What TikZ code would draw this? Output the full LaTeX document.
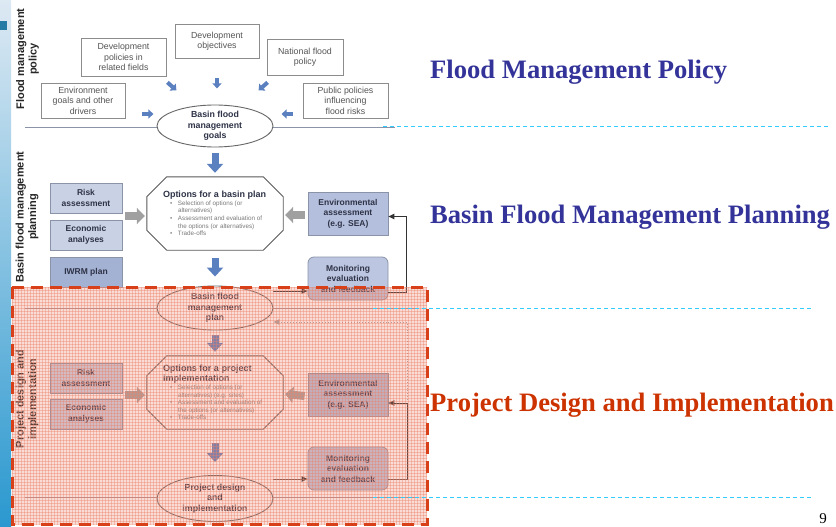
\documentclass[tikz,border=0pt]{standalone}
\usepackage{fontspec}
\setmainfont{Liberation Serif}
\setsansfont{Liberation Sans}
\usetikzlibrary{arrows.meta,shapes.geometric,patterns}
\definecolor{titleblue}{HTML}{333399}
\definecolor{titlered}{HTML}{CC3300}
\definecolor{cyanl}{HTML}{33CCFF}
\definecolor{arrblue}{HTML}{5B80C0}
\definecolor{arrgray}{HTML}{A0A0A0}
\definecolor{boxblue}{HTML}{C9D1E5}
\definecolor{iwrmblue}{HTML}{A3B1D3}
\definecolor{envblue}{HTML}{B3BFDC}
\definecolor{monblue}{HTML}{BCC6E0}
\definecolor{bgray}{HTML}{8A93A8}
\definecolor{tgray}{HTML}{8C8C8C}
\definecolor{txtgray}{HTML}{555555}
\definecolor{txtdark}{HTML}{2F3347}
\definecolor{sepcol}{HTML}{8A93A8}
\definecolor{bulgray}{HTML}{7A7A7A}
\definecolor{redline}{HTML}{D8401A}
\definecolor{salmon}{HTML}{EC8269}
\definecolor{stripT}{HTML}{DDE9F3}
\definecolor{stripB}{HTML}{2A98CF}
\newcommand\octoline[1]{%
  \draw[draw=black!65,fill=white,line width=0.9pt]
    ([xshift=20pt]#1.north west) -- ([xshift=-20pt]#1.north east)
    -- ([yshift=-20pt]#1.north east) -- ([yshift=20pt]#1.south east)
    -- ([xshift=-20pt]#1.south east) -- ([xshift=20pt]#1.south west)
    -- ([yshift=20pt]#1.south west) -- ([yshift=-20pt]#1.north west) -- cycle;}
\newcommand\bul[1]{\hangindent=15pt\hangafter=1\hspace*{7pt}\makebox[8pt][l]{\textbullet}#1\par}
\newcommand\ragset{\leftskip=0pt\rightskip=0pt plus 1fil\parfillskip=0pt plus 1fil\spaceskip=0pt\xspaceskip=0pt\hyphenpenalty=10000\exhyphenpenalty=10000}
\tikzset{
  tbox/.style={draw=tgray, fill=white, line width=0.8pt, align=center,
    font=\sffamily\fontsize{8.8}{10.5}\selectfont, text=txtgray, inner sep=1pt},
  bbox/.style={draw=bgray, fill=boxblue, line width=0.8pt, align=center,
    font=\sffamily\bfseries\fontsize{8.5}{10.5}\selectfont, text=txtdark,
    minimum width=72pt, minimum height=30pt, inner sep=1pt},
  ebox/.style={bbox, fill=envblue, minimum width=80pt, minimum height=43pt},
  mbox/.style={ebox, rounded corners=6pt, fill=monblue},
  ell/.style={ellipse, draw=black!60, fill=white, line width=0.9pt,
    minimum width=116pt, minimum height=44pt, align=center, inner sep=0pt,
    font=\sffamily\bfseries\fontsize{8.8}{10.5}\selectfont, text=txtdark},
  octn/.style={minimum width=136pt, minimum height=73pt, inner sep=0pt},
  octt/.style={text width=108pt, align=left, inner sep=0pt, text=txtdark},
  bigarr/.style={draw=arrblue, line width=7pt, -{Triangle[length=9pt,width=16pt]}},
  smallarr/.style={draw=arrblue, line width=4pt, -{Triangle[length=5pt,width=9pt]}},
  grayarr/.style={draw=arrgray, line width=8pt, -{Triangle[length=8pt,width=16pt]}},
  fb/.style={draw=black!80, line width=0.9pt, -{Triangle[length=6pt,width=5.5pt]}},
  dotfb/.style={draw=black!35, line width=0.9pt, dotted, -{Triangle[length=6pt,width=5.5pt]}},
  sect/.style={rotate=90, align=center, font=\sffamily\bfseries\fontsize{11}{12.5}\selectfont, text=black!85},
  ttl/.style={anchor=west, inner sep=0pt, font=\bfseries\fontsize{26.6}{30}\selectfont},
  sepline/.style={draw=sepcol, line width=1pt},
  cyanline/.style={draw=cyanl, line width=1pt, dash pattern=on 4pt off 3pt}
}
\begin{document}
\begin{tikzpicture}[x=1pt,y=-1pt]
\useasboundingbox (0,0) rectangle (836,527);
\fill[white] (0,0) rectangle (836,527);
% left strip
\shade[top color=stripT, bottom color=stripB] (0,0) rectangle (11,527);
\fill[stripB!80!black] (0,21) rectangle (7,30);

% separator lines
\draw[sepline] (25,127) -- (395,127);
\draw[sepline] (25,308) -- (415,308);
\draw[sepline] (25,497) -- (415,497);

% section labels
\node[sect] (s1) at (27.5,59) {Flood management\\policy};
\node[sect] (s2) at (27,217) {Basin flood management\\planning};
\node[sect] (s3) at (27,399) {Project design and\\implementation};

% ---------- policy level
\node[tbox, minimum width=84pt, minimum height=34pt] (dobj) at (217,41) {Development\\objectives};
\node[tbox, minimum width=85pt, minimum height=38pt] (dpol) at (123.5,57) {Development\\policies in\\related fields};
\node[tbox, minimum width=76pt, minimum height=36pt] (nfp) at (305,57) {National flood\\policy};
\node[tbox, minimum width=84pt, minimum height=35pt] (envg) at (83,100.5) {Environment\\goals and other\\drivers};
\node[tbox, minimum width=85pt, minimum height=35pt] (pub) at (345.5,100.5) {Public policies\\influencing\\flood risks};
\node[ell, minimum height=42pt] (goals) at (215,126) {Basin flood\\management\\goals};

\draw[smallarr] ([xshift=1pt,yshift=-6pt]dpol.south east) -- ++(9,8);
\draw[smallarr] ([yshift=-20pt]dobj.south) -- ++(0,10);
\draw[smallarr] ([xshift=1pt,yshift=-7pt]nfp.south west) -- ++(-9,8);
\draw[smallarr] ([xshift=17pt,yshift=-13.5pt]envg.east) -- ++(11,0);
\draw[smallarr] ([xshift=-10pt,yshift=-13.5pt]pub.west) -- ++(-11,0);

% ---------- basin planning level
\node[octn] (opt1) at (215,213.5) {};
\octoline{opt1}
\node[octt] (opt1t) at (217,213.5) {\ragset{\sffamily\bfseries\fontsize{9}{10.5}\selectfont Options for a basin plan\par}
  {\sffamily\fontsize{6.3}{7.6}\selectfont\color{bulgray}\ragset
  \bul{Selection of options (or alternatives)}
  \bul{Assessment and evaluation of the options (or alternatives)}
  \bul{Trade-offs}}};
\node[bbox] (risk1) at (86,198) {Risk\\assessment};
\node[bbox] (econ1) at (86,235) {Economic\\analyses};
\node[bbox, fill=iwrmblue] (iwrm) at (86,272) {IWRM plan};
\node[ebox] (env1) at (348,213.5) {Environmental\\assessment\\(e.g. SEA)};
\node[mbox] (mon1) at (348,278.5) {Monitoring\\evaluation\\and feedback};
\node[ell] (plan) at (215,308) {Basin flood\\management\\plan};

\draw[bigarr] ([yshift=-6pt]goals.south) -- ([yshift=4pt]opt1.north);
\draw[bigarr] ([yshift=-8pt]opt1.south) -- ([yshift=9pt]plan.north);
\draw[grayarr] ([xshift=3pt,yshift=-2.5pt]risk1.east |- opt1.west) -- ([xshift=-2pt,yshift=-2.5pt]opt1.west);
\draw[grayarr] ([xshift=-3pt,yshift=-1.5pt]env1.west) -- ([xshift=2pt,yshift=-1.5pt]opt1.east);
\draw[fb] ([yshift=17pt]plan.east) -- ([yshift=-12.5pt]mon1.west);
\draw[fb] ([yshift=-13.5pt]mon1.east) -- ++(18,0) |- ([yshift=-3pt]env1.east);

% ---------- project level
\node[octn] (opt2) at (215,392.5) {};
\octoline{opt2}
\node[octt] (opt2t) at (217,392.5) {\ragset{\sffamily\bfseries\fontsize{9}{10.5}\selectfont Options for a project\\implementation\par}
  {\sffamily\fontsize{6.3}{7.6}\selectfont\color{bulgray}\ragset
  \bul{Selection of options (or alternatives) (e.g. sites)}
  \bul{Assessment and evaluation of the options (or alternatives)}
  \bul{Trade-offs}}};
\node[bbox] (risk2) at (86,378) {Risk\\assessment};
\node[bbox] (econ2) at (86,414) {Economic\\analyses};
\node[ebox] (env2) at (348,394.5) {Environmental\\assessment\\(e.g. SEA)};
\node[mbox] (mon2) at (348,468.5) {Monitoring\\evaluation\\and feedback};
\node[ell, minimum height=46pt] (proj) at (215,498.5) {Project design\\and\\implementation};

\draw[bigarr] ([yshift=-5pt]plan.south) -- ([yshift=4pt]opt2.north);
\draw[bigarr] ([yshift=-14pt]opt2.south) -- ([yshift=13pt]proj.north);
\draw[grayarr] ([xshift=3pt,yshift=-2.5pt]risk2.east |- opt2.west) -- ([xshift=-2pt,yshift=-2.5pt]opt2.west);
\draw[grayarr] ([xshift=-3pt,yshift=-1.5pt]env2.west) -- ([xshift=2pt,yshift=-1.5pt]opt2.east);
\draw[fb] ([yshift=19.5pt]proj.east) -- ([yshift=-10.5pt]mon2.west);
\draw[fb] ([yshift=-10.5pt]mon2.east) -- ++(19,0) |- ([yshift=-8.5pt]env2.east);
\coordinate (dotstart) at (407,400);
\draw[dotfb] (dotstart) |- ([yshift=-14pt]plan.east);

% ---------- overlay
\fill[salmon, fill opacity=0.28] (12,287) rectangle (427,524);
\fill[pattern=grid, pattern color=salmon, opacity=0.4] (12,287) rectangle (427,524);
\draw[redline, line width=3pt, dash pattern=on 12pt off 7pt] (12,287) rectangle (427,524);

% cyan dashed lines
\draw[cyanline] (383,126) -- (830,126);
\draw[cyanline] (373,308) -- (812,308);
\draw[cyanline] (373,497) -- (812,497);

% titles
\node[ttl, text=titleblue] (t1) at (430,72) {Flood Management Policy};
\node[ttl, text=titleblue] (t2) at (430,217) {Basin Flood Management Planning};
\node[ttl, text=titlered] (t3) at (430,405) {Project Design and Implementation};
\node[inner sep=0pt, font=\fontsize{15}{15}\selectfont] (pg) at (823,519) {9};
\end{tikzpicture}
\end{document}
